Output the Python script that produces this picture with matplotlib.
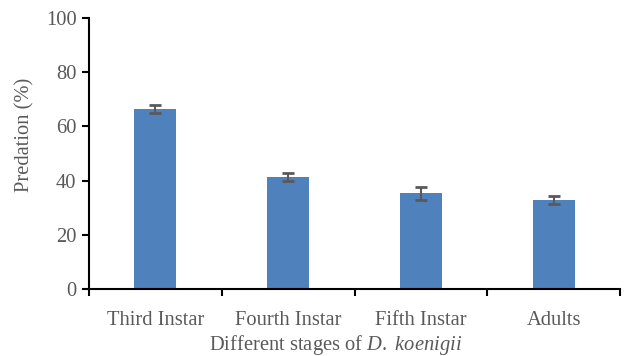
"""
Predation by stage of D. koenigii - bar chart with error bars
"""
import matplotlib.pyplot as plt
import numpy as np

plt.rcParams.update({
    'font.family': 'serif',
    'font.serif': ['Liberation Serif', 'DejaVu Serif'],
    'font.size': 14.8,
    'mathtext.fontset': 'custom',
    'mathtext.rm': 'Liberation Serif',
    'mathtext.it': 'Liberation Serif:italic',
})

stages = ['Third Instar', 'Fourth Instar', 'Fifth Instar', 'Adults']
predation = [66.4, 41.3, 35.4, 32.8]
errors = [1.4, 1.5, 2.4, 1.5]

text_color = '#595959'
bar_color = '#4F81BD'

fig = plt.figure(figsize=(6.25, 3.56), dpi=100)
ax = fig.add_axes([89 / 625, 1 - 289 / 356, 531 / 625, 271 / 356])

x = np.arange(len(stages))
ax.bar(x, predation, width=0.316, color=bar_color, zorder=2)
ax.errorbar(x, predation, yerr=errors, fmt='none', ecolor='#595959',
            elinewidth=1.5, capsize=4.5, capthick=2, zorder=3)

ax.set_xlim(-0.5, len(stages) - 0.5)
ax.set_ylim(0, 100)
ax.set_yticks([0, 20, 40, 60, 80, 100])

# ticks at the category boundaries, labels centred under the bars
ax.set_xticks(np.arange(len(stages) + 1) - 0.5)
ax.set_xticklabels([])
ax.set_xticks(x, minor=True)
ax.set_xticklabels(stages, minor=True, color=text_color)
ax.tick_params(axis='x', which='minor', length=0, pad=16)
ax.tick_params(axis='x', which='major', length=5, width=1.5, direction='out')
ax.tick_params(axis='y', length=5, width=1.5, direction='out', colors='black',
               labelcolor=text_color, pad=4)

for side in ['top', 'right']:
    ax.spines[side].set_visible(False)
for side in ['left', 'bottom']:
    ax.spines[side].set_linewidth(1.5)
    ax.spines[side].set_color('black')

fig.text(25 / 625, 1 - 135 / 356, 'Predation (%)', rotation=90,
         ha='center', va='center', color=text_color)
fig.text(336 / 625, 1 - 345 / 356, r'Different stages of $\mathit{D.}$ $\mathit{koenigii}$',
         ha='center', va='center', color=text_color)

fig.savefig('out.png', dpi=100, facecolor='white')
